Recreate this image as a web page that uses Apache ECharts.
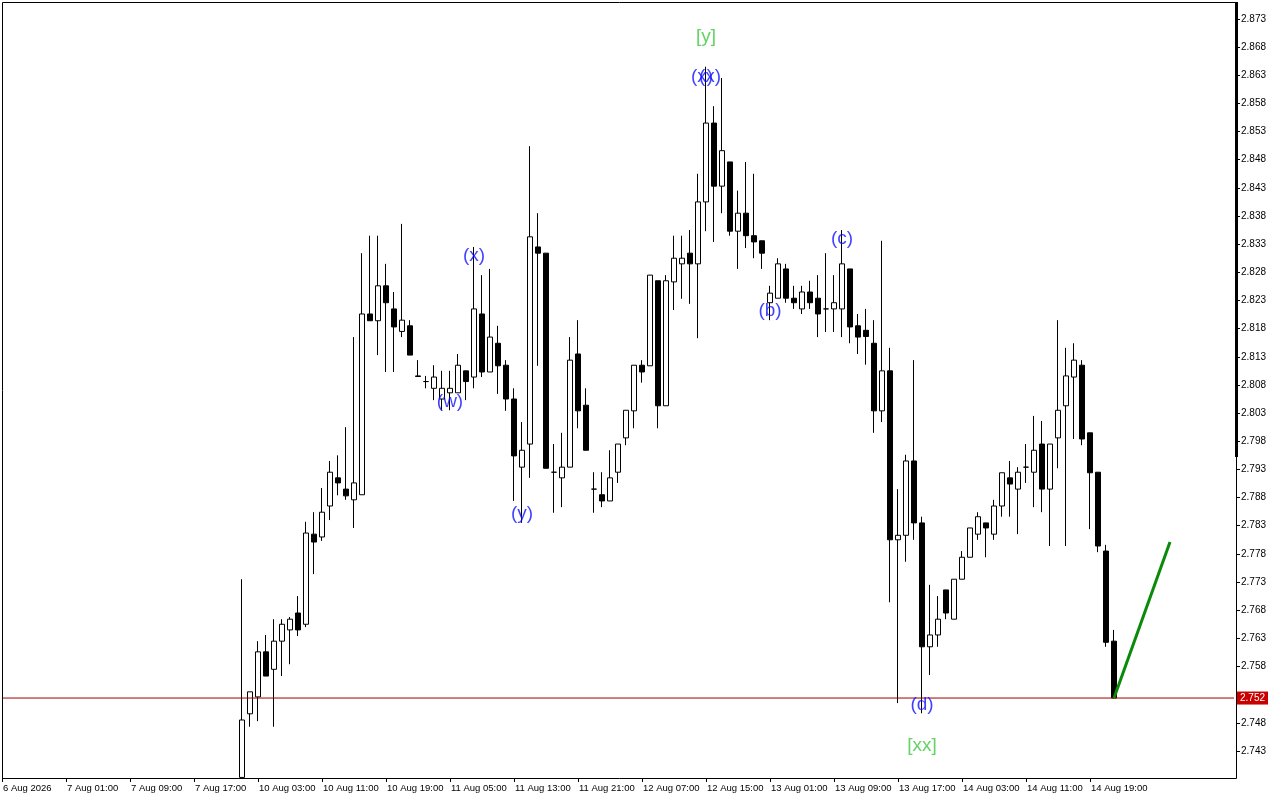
<!DOCTYPE html>
<html><head><meta charset="utf-8">
<script src="https://cdn.jsdelivr.net/npm/echarts@6/dist/echarts.min.js"></script>
<style>html,body{margin:0;padding:0;background:#fff}#c{width:1280px;height:800px}</style>
</head><body><div id="c"></div>
<script>
// Trading sessions shown on the axis: [day, first hour, last hour]
const sessions = [['6 Aug',15,22],['7 Aug',1,22],['10 Aug',1,22],['11 Aug',1,22],['12 Aug',1,22],['13 Aug',1,22],['14 Aug',1,22]];
const firstLabel = '6 Aug 2026';
const futureBars = 15;          // empty space at the right (chart shift)
const hiddenBars = 30;          // 6–7 Aug bars lying below the visible price range

// Hourly OHLC from 10 Aug 01:00 to 14 Aug 22:00 (first open/low lie at the bottom edge of the view)
const opens = [2.7383,2.7496,2.7526,2.7606,2.7575,2.7625,2.7645,2.7675,2.7655,2.7815,
2.7810,2.7865,2.7915,2.7895,2.7876,2.7885,2.8206,2.8194,2.8256,2.8215,
2.8175,2.8185,2.8096,2.8086,2.8074,2.8055,2.8066,2.8066,2.8105,2.8094,
2.8206,2.8103,2.8154,2.8115,2.8055,2.7934,2.7975,2.8325,2.8314,2.7925,
2.7915,2.7934,2.8135,2.8044,2.7895,2.7885,2.7874,2.7925,2.7986,2.8034,
2.8115,2.8114,2.8265,2.8043,2.8263,2.8295,2.8314,2.8295,2.8405,2.8545,
2.8433,2.8476,2.8353,2.8385,2.8345,2.8336,2.8226,2.8234,2.8286,2.8234,
2.8215,2.8245,2.8234,2.8215,2.8215,2.8215,2.8286,2.8185,2.8177,2.8154,
2.8034,2.8105,2.7805,2.7813,2.7945,2.7835,2.7615,2.7636,2.7716,2.7664,
2.7735,2.7774,2.7815,2.7835,2.7815,2.7865,2.7915,2.7895,2.7934,2.7925,
2.7975,2.7895,2.7986,2.8043,2.8094,2.8115,2.7995,2.7925,2.7785,2.7625];
const highs = [2.7735,2.7535,2.7625,2.7636,2.7664,2.7664,2.7668,2.7705,2.7837,2.7854,
2.7897,2.7945,2.7955,2.8005,2.8165,2.8314,2.8345,2.8345,2.8295,2.8245,
2.8366,2.8195,2.8124,2.8096,2.8115,2.8105,2.8105,2.8135,2.8105,2.8325,
2.8275,2.8286,2.8185,2.8124,2.8074,2.8014,2.8504,2.8385,2.8314,2.7975,
2.7995,2.8165,2.8195,2.8074,2.7925,2.7925,2.7964,2.7975,2.8035,2.8115,
2.8124,2.8275,2.8265,2.8275,2.8345,2.8345,2.8355,2.8455,2.8645,2.8575,
2.8625,2.8476,2.8425,2.8476,2.8455,2.8336,2.8256,2.8305,2.8295,2.8256,
2.8256,2.8265,2.8275,2.8314,2.8275,2.8355,2.8286,2.8206,2.8215,2.8195,
2.8336,2.8146,2.7895,2.7956,2.8124,2.7846,2.7725,2.7705,2.7716,2.7735,
2.7785,2.7826,2.7854,2.7835,2.7876,2.7924,2.7945,2.7934,2.7975,2.8025,
2.8016,2.7975,2.8195,2.8146,2.8154,2.8124,2.7995,2.7925,2.7796,2.7645];
const lows = [2.7383,2.7473,2.7483,2.7563,2.7473,2.7563,2.7584,2.7634,2.7650,2.7744,
2.7803,2.7840,2.7884,2.7876,2.7826,2.7885,2.8194,2.8133,2.8103,2.8103,
2.8165,2.8133,2.8095,2.8074,2.8053,2.8035,2.8035,2.8066,2.8053,2.8074,
2.8094,2.8103,2.8064,2.8034,2.7874,2.7835,2.7915,2.8114,2.7932,2.7853,
2.7863,2.7934,2.8003,2.7964,2.7853,2.7863,2.7874,2.7906,2.7973,2.8003,
2.8084,2.8114,2.8003,2.8043,2.8213,2.8233,2.8224,2.8163,2.8353,2.8334,
2.8385,2.8345,2.8286,2.8323,2.8305,2.8286,2.8195,2.8234,2.8226,2.8215,
2.8206,2.8215,2.8165,2.8174,2.8174,2.8165,2.8154,2.8135,2.8116,2.7995,
2.8014,2.7694,2.7515,2.7766,2.7805,2.7497,2.7565,2.7615,2.7664,2.7664,
2.7735,2.7774,2.7805,2.7774,2.7805,2.7846,2.7846,2.7815,2.7906,2.7863,
2.7854,2.7794,2.7932,2.7794,2.7984,2.7973,2.7824,2.7783,2.7615,2.7524];
const closes = [2.7485,2.7535,2.7606,2.7563,2.7625,2.7655,2.7664,2.7645,2.7817,2.7801,
2.7854,2.7925,2.7906,2.7883,2.7906,2.8206,2.8194,2.8256,2.8226,2.8183,
2.8195,2.8133,2.8095,2.8086,2.8094,2.8074,2.8074,2.8115,2.8086,2.8215,
2.8103,2.8165,2.8114,2.8055,2.7954,2.7964,2.8343,2.8314,2.7932,2.7925,
2.7934,2.8124,2.8034,2.7964,2.7895,2.7874,2.7915,2.7975,2.8035,2.8115,
2.8103,2.8275,2.8043,2.8265,2.8305,2.8305,2.8295,2.8405,2.8545,2.8433,
2.8496,2.8353,2.8385,2.8345,2.8334,2.8314,2.8243,2.8295,2.8234,2.8226,
2.8245,2.8226,2.8206,2.8215,2.8226,2.8295,2.8183,2.8165,2.8166,2.8034,
2.8105,2.7805,2.7813,2.7945,2.7835,2.7615,2.7636,2.7664,2.7675,2.7735,
2.7774,2.7826,2.7846,2.7826,2.7865,2.7924,2.7904,2.7925,2.7934,2.7964,
2.7895,2.7975,2.8035,2.8096,2.8124,2.7984,2.7924,2.7794,2.7623,2.7524];

// Price scale (2.753 is hidden behind the bid label)
const priceMin = 2.7382, priceMax = 2.8760;
const priceTicks = [2.743,2.748,2.758,2.763,2.768,2.773,2.778,2.783,2.788,2.793,2.798,2.803,2.808,2.813,2.818,2.823,2.828,2.833,2.838,2.843,2.848,2.853,2.858,2.863,2.868,2.873];

// Projection line (bar index, price)
const projIdx = [139, 146];
const projPrice = [2.7524, 2.7801];

// Wave labels
const waveText  = ['(w)','(x)','(y)','(x)','(x)','[y]','(b)','(c)','(d)','[xx]'];
const waveIdx   = [56, 59, 65, 88, 88, 88, 96, 105, 115, 115];
const wavePrice = [2.8050,2.8309,2.7851,2.8627,2.8627,2.8698,2.8211,2.8339,2.7512,2.7440];
const waveColor = ['#1010ff','#1010ff','#1010ff','#1010ff','#1010ff','#3cc83c','#1010ff','#1010ff','#1010ff','#3cc83c'];
const waveShift = [0,0,0,-4,4,0,0,0,0,0];

// ---- build ----
const categories = [];
sessions.forEach(([d,h0,h1]) => { for (let h=h0; h<=h1; h++) categories.push(d+' '+String(h).padStart(2,'0')+':00'); });
const lastDataIdx = categories.length - 1;
for (let i=0;i<futureBars;i++) categories.push('');
categories[0] = firstLabel;

const candleData = categories.map((c,i) => {
  const k = i - hiddenBars;
  if (k < 0 || k >= opens.length) return '-';
  return [opens[k], closes[k], lows[k], highs[k]];
});
const projData = categories.map(() => '-');
projIdx.forEach((ix,j) => projData[ix] = projPrice[j]);
const lastClose = closes[closes.length-1];
const bidData = categories.map(() => lastClose);

const showTick = (i) => i % 8 === 0 && i <= lastDataIdx;

const chart = echarts.init(document.getElementById('c'), null, {renderer:'canvas'});
chart.setOption({
  animation:false,
  backgroundColor:'#ffffff',
  grid:{left:2, top:2, width:1232, height:776, show:false},
  xAxis:{
    type:'category', data:categories, boundaryGap:false,
    axisLine:{show:false},
    axisTick:{show:true, length:4, interval:(i)=>showTick(i), lineStyle:{color:'#000'}},
    axisLabel:{interval:(i)=>showTick(i), align:'left', margin:5, padding:[0,0,0,1],
      color:'#000', fontSize:9.5, fontFamily:'Liberation Sans'},
    splitLine:{show:false}
  },
  yAxis:{
    type:'value', min:priceMin, max:priceMax, position:'right', offset:2, scale:true,
    axisLine:{show:false},
    axisTick:{show:true, length:4, customValues:priceTicks, lineStyle:{color:'#000'}},
    axisLabel:{customValues:priceTicks, margin:5, color:'#000', fontSize:10, fontFamily:'Liberation Sans',
      formatter:(v)=>v.toFixed(3)},
    splitLine:{show:false}
  },
  series:[
    {
      type:'candlestick', data:candleData, barWidth:5, clip:true, z:2,
      itemStyle:{color:'#ffffff', color0:'#000000', borderColor:'#000000', borderColor0:'#000000', borderWidth:1}
    },
    {
      type:'line', data:bidData, symbol:'none', silent:true, z:3,
      lineStyle:{color:'#a00000', width:1},
      endLabel:{show:true, distance:3, formatter:()=>lastClose.toFixed(3),
        backgroundColor:'#c80000', color:'#ffffff', padding:[2,3,1,3], fontSize:10, fontFamily:'Liberation Sans'}
    },
    {
      type:'line', data:projData, connectNulls:true, symbol:'none',
      lineStyle:{color:'#0a8a0a', width:3}, z:5
    },
    {
      type:'scatter', symbolSize:1, itemStyle:{color:'rgba(0,0,0,0)'}, z:10,
      data: waveText.map((t,j)=>({value:[waveIdx[j], wavePrice[j]], name:t,
        label:{show:true, position:'inside', formatter:t, color:waveColor[j], offset:[waveShift[j],0],
          fontSize:19, fontFamily:'Liberation Sans'}}))
    }
  ],
  graphic:[
    {type:'rect', shape:{x:2.5, y:2.5, width:1234, height:776}, style:{fill:null, stroke:'#000', lineWidth:1}, z:100, silent:true},
    {type:'rect', shape:{x:1235, y:2, width:3, height:455}, style:{fill:'#000'}, z:100, silent:true}
  ]
});
</script>
</body></html>
